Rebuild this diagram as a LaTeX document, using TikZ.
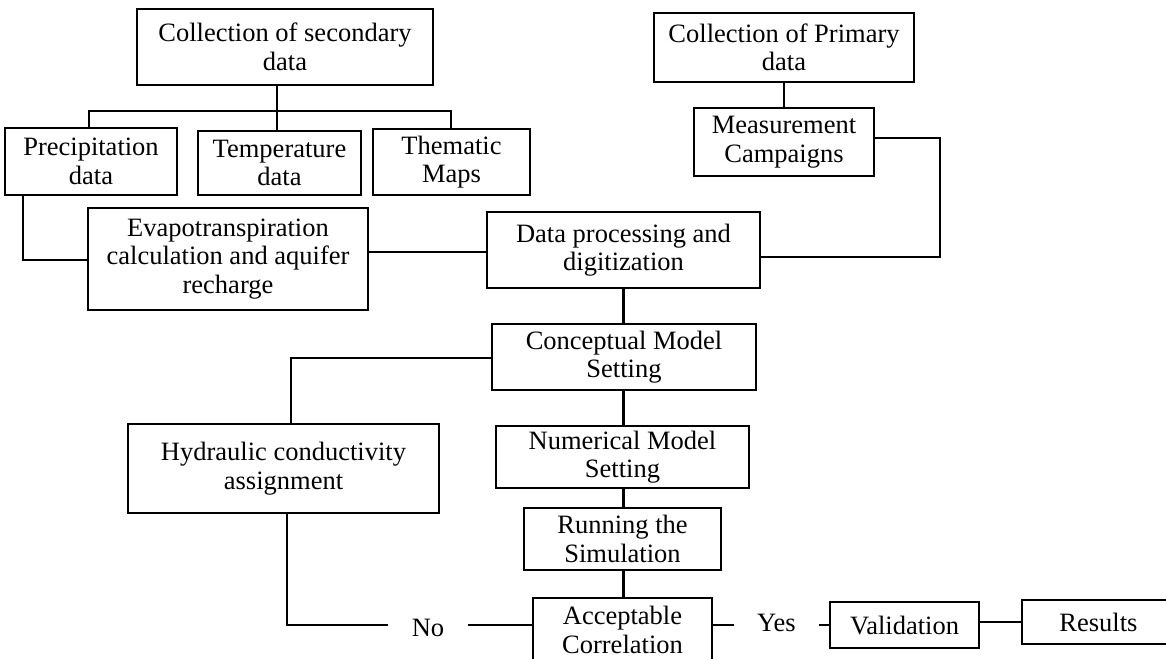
\documentclass[tikz,border=0pt]{standalone}
\usepackage{fontspec}
\setmainfont{Liberation Serif}
\begin{document}
\begin{tikzpicture}[x=1pt,y=-1pt,
  box/.style={draw,line width=2.6pt,inner sep=0pt,align=center,
    font=\fontsize{26.5}{28.5}\selectfont},
  lbl/.style={inner sep=0pt,font=\fontsize{26.5}{28.5}\selectfont},
  conn/.style={line width=2.6pt}]
\clip (0,0) rectangle (1166,658);
\fill[white] (0,0) rectangle (1166,658);
\node[box,minimum width=296pt,minimum height=76pt] (sec) at (285,47) {Collection of secondary\\data};
\node[box,minimum width=172pt,minimum height=67pt] (prec) at (91,161.5) {Precipitation\\data};
\node[box,minimum width=163pt,minimum height=64pt] (temp) at (279.5,163) {Temperature\\data};
\node[box,minimum width=157pt,minimum height=66pt] (them) at (451.5,162) {Thematic\\Maps};
\node[box,minimum width=260pt,minimum height=69pt] (prim) at (784,47.5) {Collection of Primary\\data};
\node[box,minimum width=180pt,minimum height=68pt] (meas) at (784,142) {Measurement\\Campaigns};
\node[box,minimum width=280pt,minimum height=102pt] (evap) at (228,259) {Evapotranspiration\\calculation and aquifer\\recharge};
\node[box,minimum width=273pt,minimum height=76pt] (dp) at (623.5,250) {Data processing and\\digitization};
\node[box,minimum width=264pt,minimum height=66pt] (conc) at (624,357) {Conceptual Model\\Setting};
\node[box,minimum width=311pt,minimum height=89pt] (hyd) at (283.5,468.5) {Hydraulic conductivity\\assignment};
\node[box,minimum width=253pt,minimum height=62pt] (num) at (622.5,457) {Numerical Model\\Setting};
\node[box,minimum width=197pt,minimum height=62pt] (run) at (622.5,539) {Running the\\Simulation};
\node[box,minimum width=179pt,minimum height=64pt] (acc) at (622.5,630) {Acceptable\\Correlation};
\node[box,minimum width=149pt,minimum height=46pt] (val) at (904.5,625) {Validation};
\node[box,minimum width=153pt,minimum height=44pt] (res) at (1098.5,622) {Results};
\node[lbl,minimum width=80pt,minimum height=20pt] (no) at (428,628) {No};
\node[lbl,minimum width=85pt,minimum height=20pt] (yes) at (776.5,623) {Yes};
\coordinate (j1) at (277,111);
\coordinate (jl) at (89,111);
\coordinate (jr) at (451,111);
\coordinate (c1) at (940,138);
\coordinate (c2) at (940,257);
\coordinate (c3) at (23,260);
\coordinate (c4) at (0,252);
\coordinate (c5) at (291,358);
\coordinate (c6) at (287,625);
\coordinate (c7) at (623.5,0);
\draw[conn] (sec.south -| j1) -- (temp.north -| j1);
\draw[conn] (prec.north -| jl) -- (jl) -- (jr) -- (them.north -| jr);
\draw[conn] (prim) -- (meas);
\draw[conn] (meas.east |- c1) -- (c1) -- (c2) -- (dp.east |- c2);
\draw[conn] (prec.south -| c3) -- (c3) -- (evap.west |- c3);
\draw[conn] (evap.east |- c4) -- (dp.west |- c4);
\draw[conn] (dp.south -| c7) -- (conc.north -| c7);
\draw[conn] (conc.west |- c5) -- (c5) -- (hyd.north -| c5);
\draw[conn] (conc.south -| c7) -- (num.north -| c7);
\draw[conn] (num.south -| c7) -- (run.north -| c7);
\draw[conn] (run.south -| c7) -- (acc.north -| c7);
\draw[conn] (hyd.south -| c6) -- (c6) -- (no.west |- c6);
\draw[conn] (no.east |- c6) -- (acc.west |- c6);
\draw[conn] (acc.east |- c6) -- (yes.west |- c6);
\draw[conn] (yes.east |- c6) -- (val.west |- c6);
\draw[conn] (val.east |- res.west) -- (res.west);
\end{tikzpicture}
\end{document}
